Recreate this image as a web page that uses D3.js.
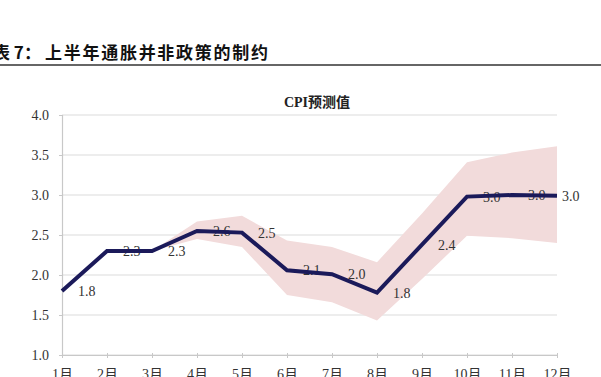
<!DOCTYPE html>
<html>
<head>
<meta charset="utf-8">
<script src="https://cdn.jsdelivr.net/npm/d3@7/dist/d3.min.js"></script>
<style>
  body { margin: 0; background: #fff; }
  svg { display: block; }
</style>
</head>
<body>
<div id="chart"></div>
<script>
// data
var months = ["1月","2月","3月","4月","5月","6月","7月","8月","9月","10月","11月","12月"];
var cpi    = [1.8, 2.3, 2.3, 2.55, 2.53, 2.06, 2.01, 1.78, 2.38, 2.98, 3.0, 2.99];
var labels = ["1.8","2.3","2.3","2.6","2.5","2.1","2.0","1.8","2.4","3.0","3.0","3.0"];
var upper  = [1.8, 2.3, 2.3, 2.67, 2.74, 2.43, 2.35, 2.16, 2.77, 3.41, 3.53, 3.61];
var lower  = [1.8, 2.3, 2.3, 2.45, 2.35, 1.75, 1.66, 1.43, 1.95, 2.49, 2.46, 2.4];
var yTicks = [1.0, 1.5, 2.0, 2.5, 3.0, 3.5, 4.0];

var width = 601, height = 377;
var margin = {top: 115, right: 44, bottom: 22, left: 62};

var svg = d3.select("#chart").append("svg")
  .attr("width", width)
  .attr("height", height);

// header, in two pieces so the wide spacing of the original can be kept
var headFont = "'Noto Sans CJK SC', sans-serif";
svg.append("text")
  .attr("x", -7)
  .attr("y", 59)
  .attr("font-family", headFont)
  .attr("font-weight", 700)
  .attr("font-size", 17)
  .attr("fill", "#111")
  .text("表 7：");

svg.append("text")
  .attr("x", 45)
  .attr("y", 59)
  .attr("font-family", headFont)
  .attr("font-weight", 700)
  .attr("font-size", 17)
  .attr("textLength", 223)
  .attr("lengthAdjust", "spacing")
  .attr("fill", "#111")
  .text("上半年通胀并非政策的制约");

svg.append("line")
  .attr("x1", 0).attr("x2", width)
  .attr("y1", 65).attr("y2", 65)
  .attr("stroke", "#333")
  .attr("stroke-width", 1.5);

// scales
var x = d3.scalePoint()
  .domain(months)
  .range([margin.left, width - margin.right]);

var y = d3.scaleLinear()
  .domain([1, 4])
  .range([height - margin.bottom, margin.top]);

// gridlines
svg.append("g")
  .selectAll("line")
  .data(yTicks)
  .enter().append("line")
  .attr("x1", margin.left)
  .attr("x2", width - margin.right)
  .attr("y1", function(d){ return y(d) })
  .attr("y2", function(d){ return y(d) })
  .attr("stroke", "#dcdcdc")
  .attr("stroke-width", 1.2);

// y axis
var yAxis = d3.axisLeft(y)
  .tickValues(yTicks)
  .tickSize(3)
  .tickPadding(10)
  .tickFormat(d3.format(".1f"));

var gy = svg.append("g")
  .attr("transform", "translate(" + margin.left + ",0)")
  .call(yAxis);
gy.select(".domain").attr("stroke", "#c8c8c8").attr("stroke-width", 1.2);
gy.selectAll(".tick line").attr("stroke", "#c8c8c8");
gy.selectAll("text")
  .attr("font-family", "'Liberation Serif', serif")
  .attr("font-size", 14)
  .attr("fill", "#333");

// x axis
var xAxis = d3.axisBottom(x)
  .tickSize(3)
  .tickPadding(11)
  .tickSizeOuter(0);

var gx = svg.append("g")
  .attr("transform", "translate(0," + y(1) + ")")
  .call(xAxis);
gx.select(".domain").attr("stroke", "#c8c8c8").attr("stroke-width", 1.2);
gx.selectAll(".tick line").attr("stroke", "#c8c8c8").attr("y1", -2);
gx.selectAll("text")
  .attr("font-family", "'Liberation Serif', 'Noto Sans CJK SC', serif")
  .attr("font-size", 14)
  .attr("fill", "#333");

// title
svg.append("text")
  .attr("x", 317)
  .attr("y", 107)
  .attr("text-anchor", "middle")
  .attr("font-family", "'Liberation Serif', 'Noto Sans CJK SC', serif")
  .attr("font-weight", 700)
  .attr("font-size", 14)
  .attr("fill", "#222")
  .text("CPI预测值");

// band
var area = d3.area()
  .x(function(d, i){ return x(months[i]) })
  .y0(function(d, i){ return y(lower[i]) })
  .y1(function(d, i){ return y(upper[i]) });

svg.append("path")
  .datum(cpi)
  .attr("d", area)
  .attr("fill", "#f2dbdb");

// labels (drawn under the line, like the original)
svg.append("g")
  .selectAll("text")
  .data(cpi)
  .enter().append("text")
  .attr("x", function(d, i){ return x(months[i]) + (i == cpi.length - 1 ? 5 : 16) })
  .attr("y", function(d, i){ return y(d) + 5 })
  .attr("font-family", "'Liberation Serif', serif")
  .attr("font-size", 14)
  .attr("fill", "#333")
  .text(function(d, i){ return labels[i] });

// line
var line = d3.line()
  .x(function(d, i){ return x(months[i]) })
  .y(function(d){ return y(d) });

svg.append("path")
  .datum(cpi)
  .attr("d", line)
  .attr("fill", "none")
  .attr("stroke", "#1b1a5a")
  .attr("stroke-width", 4)
  .attr("stroke-linejoin", "miter");
</script>
</body>
</html>
